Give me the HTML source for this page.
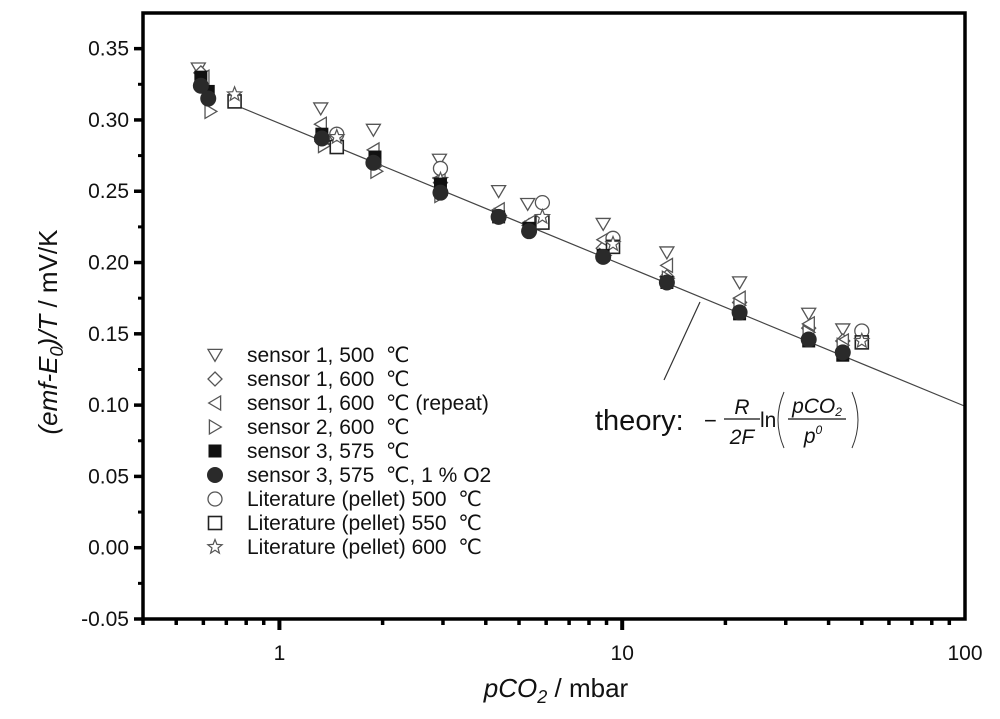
<!DOCTYPE html>
<html><head><meta charset="utf-8"><style>
body{margin:0;background:#fff;}
svg{display:block;font-family:"Liberation Sans","DejaVu Sans",sans-serif;}
</style></head><body>
<svg id="chart" width="1000" height="719" viewBox="0 0 1000 719"></svg>
<script>
const NS='http://www.w3.org/2000/svg';
const svg=document.getElementById('chart');
const X0=143,X1=965,Y0=13,Y1=619;
const xMin=0.4,xMax=100,yMin=-0.05,yMax=0.375;
function sx(v){return X0+(Math.log10(v)-Math.log10(xMin))/(Math.log10(xMax)-Math.log10(xMin))*(X1-X0);}
function sy(v){return Y1-(v-yMin)/(yMax-yMin)*(Y1-Y0);}
const yTicks=[-0.05,0,0.05,0.10,0.15,0.20,0.25,0.30,0.35];
const yTickLabels=['-0.05','0.00','0.05','0.10','0.15','0.20','0.25','0.30','0.35'];
const xTicks=[1,10,100];
const xTickLabels=['1','10','100'];
const seriesNames=['sensor 1, 500  \u2103','sensor 1, 600  \u2103','sensor 1, 600  \u2103 (repeat)','sensor 2, 600  \u2103','sensor 3, 575  \u2103','sensor 3, 575  \u2103, 1 % O2','Literature (pellet) 500  \u2103','Literature (pellet) 550  \u2103','Literature (pellet) 600  \u2103'];
const s1_500=[[0.58,0.336],[1.32,0.308],[1.88,0.293],[2.93,0.272],[4.36,0.250],[5.3,0.241],[8.8,0.227],[13.5,0.207],[22,0.186],[35,0.164],[44,0.153]];
const s1_600=[[0.59,0.333],[1.33,0.285],[1.9,0.268],[2.95,0.256],[4.36,0.232],[5.35,0.226],[8.8,0.210],[13.5,0.190],[22,0.172],[35,0.154],[44,0.145]];
const s1_rep=[[0.6,0.330],[1.32,0.297],[1.88,0.279],[2.93,0.259],[4.36,0.237],[5.35,0.228],[8.8,0.216],[13.5,0.198],[22,0.175],[35,0.157],[44,0.145]];
const s2_600=[[0.63,0.306],[1.35,0.282],[1.92,0.264],[2.95,0.247],[4.4,0.233],[5.4,0.224],[8.9,0.205],[13.6,0.189],[22,0.170],[35,0.151],[44,0.142]];
const s3_575=[[0.59,0.330],[0.62,0.320],[1.33,0.290],[1.9,0.274],[2.95,0.255],[4.36,0.232],[5.35,0.224],[8.8,0.205],[13.5,0.186],[22,0.164],[35,0.145],[44,0.135]];
const s3_o2=[[0.59,0.324],[0.62,0.315],[1.33,0.287],[1.88,0.270],[2.95,0.249],[4.36,0.232],[5.35,0.222],[8.8,0.204],[13.5,0.186],[22,0.165],[35,0.146],[44,0.137]];
const lit500=[[1.47,0.290],[2.95,0.266],[5.85,0.242],[9.4,0.217],[50,0.152]];
const lit550=[[0.74,0.313],[1.47,0.281],[5.85,0.228],[9.4,0.211],[50,0.144]];
const lit600=[[0.74,0.318],[1.47,0.288],[2.95,0.258],[5.85,0.232],[9.4,0.213],[50,0.145]];
const theoryRange=[0.75,100];
const p0=1000;
function el(t,a,p){const e=document.createElementNS(NS,t);for(const k in a)e.setAttribute(k,a[k]);(p||svg).appendChild(e);return e;}
function marker(kind,x,y,g){
  const r=7;let e;
  if(kind==='down')e=el('polygon',{points:`${x-r},${y-r*0.8} ${x+r},${y-r*0.8} ${x},${y+r*0.9}`,fill:'#fff',stroke:'#555','stroke-width':1.3},g);
  else if(kind==='diamond')e=el('polygon',{points:`${x},${y-r} ${x+r},${y} ${x},${y+r} ${x-r},${y}`,fill:'#fff',stroke:'#555','stroke-width':1.3},g);
  else if(kind==='left')e=el('polygon',{points:`${x-r*0.9},${y} ${x+r*0.8},${y-r} ${x+r*0.8},${y+r}`,fill:'#fff',stroke:'#555','stroke-width':1.3},g);
  else if(kind==='right')e=el('polygon',{points:`${x+r*0.9},${y} ${x-r*0.8},${y-r} ${x-r*0.8},${y+r}`,fill:'#fff',stroke:'#555','stroke-width':1.3},g);
  else if(kind==='fsq')e=el('rect',{x:x-6.5,y:y-6.5,width:13,height:13,fill:'#111'},g);
  else if(kind==='fci')e=el('circle',{cx:x,cy:y,r:8,fill:'#2a2a2a'},g);
  else if(kind==='oci')e=el('circle',{cx:x,cy:y,r:7,fill:'#fff',stroke:'#555','stroke-width':1.3},g);
  else if(kind==='osq')e=el('rect',{x:x-6.5,y:y-6.5,width:13,height:13,fill:'#fff',stroke:'#222','stroke-width':1.6},g);
  else if(kind==='star'){let pts=[];for(let i=0;i<10;i++){const a=-Math.PI/2+i*Math.PI/5;const rr=i%2?3.2:7.5;pts.push((x+rr*Math.cos(a)).toFixed(1)+','+(y+rr*Math.sin(a)).toFixed(1));}
    e=el('polygon',{points:pts.join(' '),fill:'#fff',stroke:'#555','stroke-width':1.2},g);}
  return e;
}
const tl=el('line',{x1:sx(theoryRange[0]),y1:sy(-8.314/(2*96.485)*Math.log(theoryRange[0]/p0)),x2:sx(theoryRange[1]),y2:sy(-8.314/(2*96.485)*Math.log(theoryRange[1]/p0)),stroke:'#444','stroke-width':1.2});


const kinds=['down','diamond','left','right','fsq','fci','oci','osq','star'];
const allData=[s1_500,s1_600,s1_rep,s2_600,s3_575,s3_o2,lit500,lit550,lit600];
const order=[0,1,2,3,6,7,8,4,5];
order.forEach(i=>{
  const g=el('g',{});
  
  
  allData[i].forEach(d=>{const m=marker(kinds[i],sx(d[0]),sy(d[1]),g);
    
    });
});
const fr=el('rect',{x:X0,y:Y0,width:X1-X0,height:Y1-Y0,fill:'none',stroke:'#000','stroke-width':3.5});


yTicks.forEach((v,i)=>{
  const y=sy(v);
  el('line',{x1:X0-9,y1:y,x2:X0,y2:y,stroke:'#000','stroke-width':3.5});
  const t=el('text',{x:X0-14,y:y+7,'text-anchor':'end','font-size':21,fill:'#111'});
  t.textContent=yTickLabels[i];
  
  
  if(i<yTicks.length-1){const ym=sy(v+0.025);el('line',{x1:X0-5,y1:ym,x2:X0,y2:ym,stroke:'#000','stroke-width':3});}
});
for(let dec=0.1;dec<100;dec*=10){for(let k=1;k<10;k++){const v=dec*k;if(v<xMin-1e-9||v>xMax+1e-9)continue;
  const major=k===1;const x=sx(v);
  el('line',{x1:x,y1:Y1,x2:x,y2:Y1+(major?11:6),stroke:'#000','stroke-width':major?4:3.5});}}
xTicks.forEach((v,i)=>{const t=el('text',{x:sx(v),y:Y1+41,'text-anchor':'middle','font-size':21,fill:'#111'});
  t.textContent=xTickLabels[i];
  
  });
const xt=el('text',{x:556,y:697,'text-anchor':'middle','font-size':26,fill:'#111'});
xt.innerHTML='<tspan font-style="italic">pCO</tspan><tspan font-style="italic" font-size="18" dy="6">2</tspan><tspan dy="-6"> / mbar</tspan>';


const yt=el('text',{transform:'translate(57,332) rotate(-90)','text-anchor':'middle','font-size':26,fill:'#111'});
yt.innerHTML='<tspan font-style="italic">(emf-E</tspan><tspan font-style="italic" font-size="18" dy="6">0</tspan><tspan font-style="italic" dy="-6">)/T</tspan><tspan> / mV/K</tspan>';


const lg=el('g',{});


seriesNames.forEach((n,i)=>{const y=355+i*24;
  const eg=el('g',{},lg);
  
  
  marker(kinds[i],215,y,eg);
  const t=el('text',{x:247,y:y+7,'font-size':21,fill:'#111','xml:space':'preserve'},eg);t.textContent=n;t.setAttribute('style','white-space:pre');});
const ll=el('line',{x1:700,y1:302,x2:664,y2:380,stroke:'#333','stroke-width':1.2});


const ag=el('g',{});


const th=el('text',{x:595,y:430,'font-size':29,fill:'#111'},ag);th.textContent='theory:';
const mn=el('text',{x:704,y:428,'font-size':22,fill:'#111'},ag);mn.textContent='\u2212';
const R=el('text',{x:742,y:414,'font-size':21,'font-style':'italic','text-anchor':'middle',fill:'#111'},ag);R.textContent='R';
el('line',{x1:724,y1:419,x2:760,y2:419,stroke:'#111','stroke-width':1.2},ag);
const F=el('text',{x:742,y:444,'font-size':21,'font-style':'italic','text-anchor':'middle',fill:'#111'},ag);F.textContent='2F';
const ln=el('text',{x:760,y:427,'font-size':21,fill:'#111'},ag);ln.textContent='ln';
el('path',{d:'M784,392 Q772,420 784,448',fill:'none',stroke:'#333','stroke-width':1},ag);
el('path',{d:'M852,392 Q864,420 852,448',fill:'none',stroke:'#333','stroke-width':1},ag);
const pc=el('text',{x:817,y:413,'font-size':21,'font-style':'italic','text-anchor':'middle',fill:'#111'},ag);pc.innerHTML='pCO<tspan font-size="12" dy="3">2</tspan>';
el('line',{x1:788,y1:419,x2:846,y2:419,stroke:'#111','stroke-width':1.2},ag);
const pz=el('text',{x:813,y:443,'font-size':21,'font-style':'italic','text-anchor':'middle',fill:'#111'},ag);pz.innerHTML='p<tspan font-size="12" dy="-9">0</tspan>';
</script>
</body></html>
